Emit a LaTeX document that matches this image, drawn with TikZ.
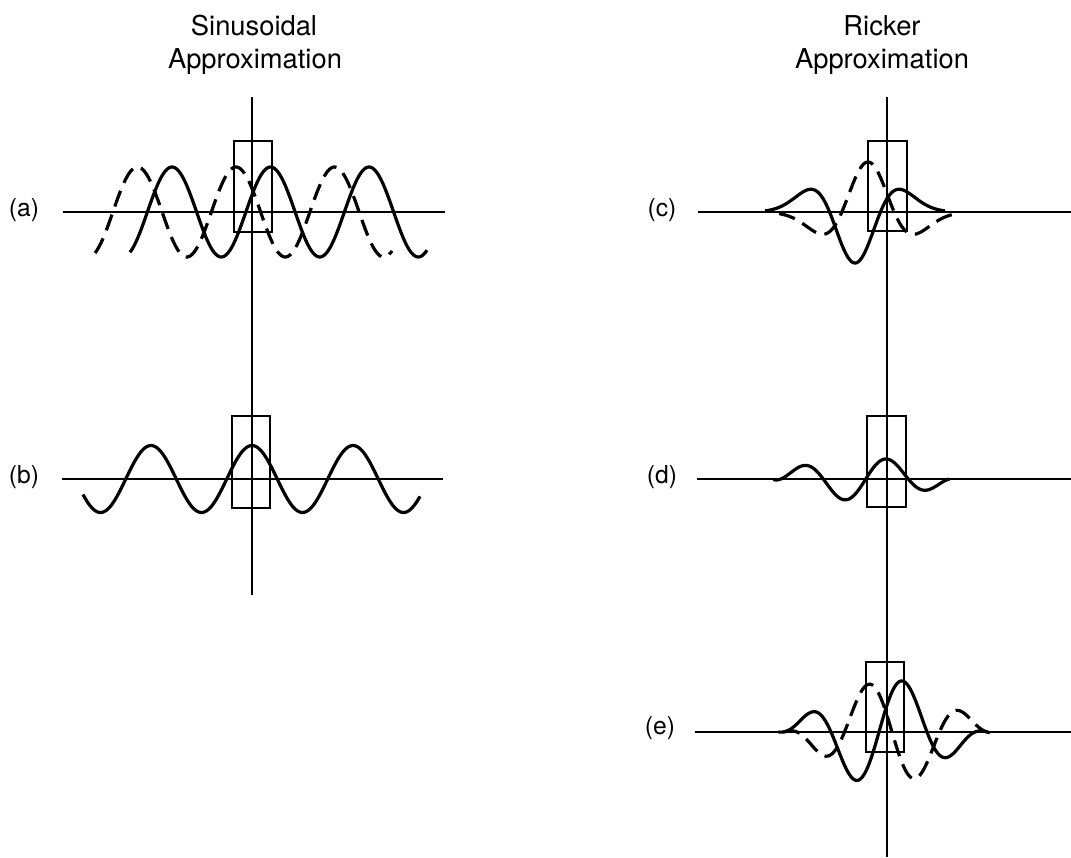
\documentclass[tikz,border=0pt]{standalone}
\usepackage{fontspec}
\setmainfont{TeX Gyre Heros}
\tikzset{
  every node/.style={font=\fontsize{18.5}{22}\selectfont},
  title/.style={anchor=base,font=\fontsize{20.5}{24}\selectfont},
  axisline/.style={line width=1.2pt},
  window/.style={line width=1.2pt},
  wave/.style={line width=2.4pt,samples=200,smooth},
  dashwave/.style={wave,dash pattern=on 12.5pt off 6.5pt},
}

\begin{document}
\begin{tikzpicture}[x=0.75pt,y=-0.75pt,
    declare function={
      ricker(\u)=(1-2*\u*\u)*exp(-\u*\u);
      taper(\u,\m,\n,\q)=pow(sin((\u-\m)/(\n-\m)*180),\q);
    }]
  \useasboundingbox (0,0) rectangle (1071,857);
  % titles
  \node[title] (sintop) at (254,35) {Sinusoidal};
  \node[title] (sinbot) at (255,68) {Approximation};
  \node[title] (rictop) at (882,35) {Ricker};
  \node[title] (ricbot) at (882,68) {Approximation};
  % left column
  \coordinate (lt) at (252,97);
  \coordinate (lb) at (252,595);
  \draw[axisline] (lt) -- (lb);
  \coordinate (a0) at (63,212);
  \coordinate (a1) at (445,212);
  \coordinate (b0) at (62,479);
  \coordinate (b1) at (443,479);
  \draw[axisline] (a0) -- (a1);
  \draw[axisline] (b0) -- (b1);
  \node (la) at (24,210) {(a)};
  \node (lbl) at (24,477) {(b)};
  \draw[window] (234,141) rectangle (272,232);
  \draw[window] (232,416) rectangle (270,508);
  \draw[wave,domain=130:427] plot(\x,{212-45*cos((\x-270.5)/98.5*360)});
  \draw[dashwave,domain=95:392] plot(\x,{212-45*cos((\x-236)/98.5*360)});
  \draw[wave,domain=83:420] plot(\x,{479-33.5*cos((\x-252)/101*360)});
  % right column
  \coordinate (rt) at (887,97);
  \coordinate (rb) at (887,857);
  \draw[axisline] (rt) -- (rb);
  \coordinate (c0) at (698,212);
  \coordinate (c1) at (1071,212);
  \coordinate (d0) at (697,479);
  \coordinate (d1) at (1071,479);
  \coordinate (e0) at (695,732);
  \coordinate (e1) at (1071,732);
  \draw[axisline] (c0) -- (c1);
  \draw[axisline] (d0) -- (d1);
  \draw[axisline] (e0) -- (e1);
  \node (lc) at (662,210) {(c)};
  \node (ld) at (662,477) {(d)};
  \node (le) at (660,728) {(e)};
  \draw[window] (868,141) rectangle (907,231);
  \draw[window] (867,416) rectangle (906,507);
  \draw[window] (866,662) rectangle (904,752);
  \draw[wave,domain=765:945] plot(\x,{212+51*ricker((\x-855)/36)});
  \draw[dashwave,domain=779:957] plot(\x,{212-50*ricker((\x-868)/37)});
  \draw[wave,domain=773.5:949.5] plot(\x,{479-21.5*taper(\x,773,950,0.7)*cos((\x-887)/85*360)});
  \draw[wave,domain=778.5:987.5] plot(\x,{732-54*taper(\x,778,988,1.3)*sin((\x-879)/96*360)});
  \draw[dashwave,domain=783.5:996.5] plot(\x,{732+51*taper(\x,783,997,1.3)*sin((\x-892)/95*360)});
\end{tikzpicture}
\end{document}
